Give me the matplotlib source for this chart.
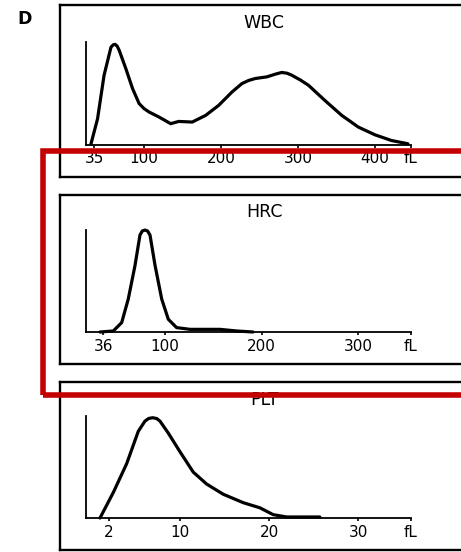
import matplotlib
matplotlib.use("Agg")
import matplotlib.pyplot as plt
from matplotlib.patches import Rectangle

plt.rcParams['font.family'] = ['DejaVu Sans']

# ---------------- data ----------------
panel_titles = ["WBC", "HRC", "PLT"]
panel_letter = "D"

wbc_x = [31, 39.5, 48, 57, 60, 62.4, 65, 67.6, 76.3, 85, 93.5, 100, 106.5, 119.4,
         134.6, 145, 162.6, 180, 197, 214.4, 227.3, 236, 244.7, 259.7, 270, 279,
         286, 292, 303, 313.7, 335, 357, 378.5, 400, 421.6, 443]
wbc_y = [0.7, 25, 67.6, 95, 97.3, 97.7, 96, 92, 74, 54.6, 40, 35, 31.7, 26.8,
         20.3, 22.5, 21.9, 28.4, 38.2, 51.3, 59.5, 62.5, 64.4, 66, 68.5, 70.3,
         69.5, 67.6, 63, 57.8, 43, 28.4, 17, 9.5, 3.9, 0.7]
wbc_ticks = [35, 100, 200, 300, 400, 447]
wbc_labels = ["35", "100", "200", "300", "400", "fL"]
wbc_xlim = (24.5, 447)

hrc_x = [32.8, 46.5, 55.2, 62, 69, 74.1, 76.5, 79.3, 82, 84.5, 89.7, 96.6, 103.4,
         112, 125.9, 156.9, 174, 191]
hrc_y = [0, 1, 9.2, 32.3, 65.3, 95, 99, 100, 99, 95, 65.3, 32.3, 12.5,
         4.3, 2.6, 2.6, 1, 0]
hrc_ticks = [36, 100, 200, 300, 354.4]
hrc_labels = ["36", "100", "200", "300", "fL"]
hrc_xlim = (18.3, 354.4)

plt_x = [1.04, 2.53, 4.03, 5.33, 6.08, 6.5, 6.94, 7.4, 7.76, 8.69, 10, 11.49,
         12.99, 14.85, 17.1, 18.96, 20.45, 21.95, 25.68]
plt_y = [0, 25, 53.3, 85, 95, 97.6, 98.3, 97.5, 95, 83.3, 65, 45,
         33.3, 23.3, 15, 10, 3.3, 1, 1]
plt_ticks = [2, 10, 20, 30, 35.9]
plt_labels = ["2", "10", "20", "30", "fL"]
plt_xlim = (-0.53, 35.9)

# ---------------- layout (pixels) ----------------
W, H = 461, 552
fig = plt.figure(figsize=(W / 100, H / 100), dpi=100)
fig.patch.set_facecolor("white")


def rect(left, top, right, bottom):
    return [left / W, 1 - bottom / H, (right - left) / W, (bottom - top) / H]


panels = [
    dict(title=panel_titles[0], x=wbc_x, y=wbc_y, ticks=wbc_ticks, labels=wbc_labels,
         xlim=wbc_xlim, box=(5, 177), axis=(42, 144.5), title_y=23),
    dict(title=panel_titles[1], x=hrc_x, y=hrc_y, ticks=hrc_ticks, labels=hrc_labels,
         xlim=hrc_xlim, box=(195, 363.5), axis=(230, 332), title_y=212),
    dict(title=panel_titles[2], x=plt_x, y=plt_y, ticks=plt_ticks, labels=plt_labels,
         xlim=plt_xlim, box=(382, 550), axis=(416, 518), title_y=400),
]

for p in panels:
    # outer frame
    bx = fig.add_axes(rect(59.5, p["box"][0], 480, p["box"][1]))
    bx.set_xticks([])
    bx.set_yticks([])
    bx.set_facecolor("none")
    for s in bx.spines.values():
        s.set_linewidth(1.7)
        s.set_color("black")
    # data axes
    ax = fig.add_axes(rect(86, p["axis"][0], 411, p["axis"][1]))
    ax.set_facecolor("none")
    ax.plot(p["x"], p["y"], color="black", lw=2.3, solid_joinstyle="round",
            solid_capstyle="round", clip_on=False)
    ax.set_xlim(*p["xlim"])
    ax.set_ylim(0, 100)
    ax.spines["top"].set_visible(False)
    ax.spines["right"].set_visible(False)
    ax.spines["left"].set_linewidth(1.3)
    ax.spines["bottom"].set_linewidth(1.3)
    ax.set_yticks([])
    ax.set_xticks(p["ticks"])
    ax.set_xticklabels(p["labels"])
    ax.tick_params(axis="x", direction="out", length=2.5, width=1.2, pad=2.5,
                   labelsize=11, colors="black")
    fig.text(264 / W, 1 - p["title_y"] / H, p["title"], ha="center", va="center",
             fontsize=12.5, color="black")

fig.text(24.5 / W, 1 - 19 / H, panel_letter, ha="center", va="center",
         fontsize=12.5, fontweight="bold", color="black")

# red highlight frame
red = Rectangle((42.5 / W, 1 - 394.5 / H), (500 - 42.5) / W, (394.5 - 151) / H,
                transform=fig.transFigure, fill=False, edgecolor="#C40000",
                linewidth=4, zorder=10)
fig.add_artist(red)

fig.savefig("out.png", dpi=100, facecolor="white")
